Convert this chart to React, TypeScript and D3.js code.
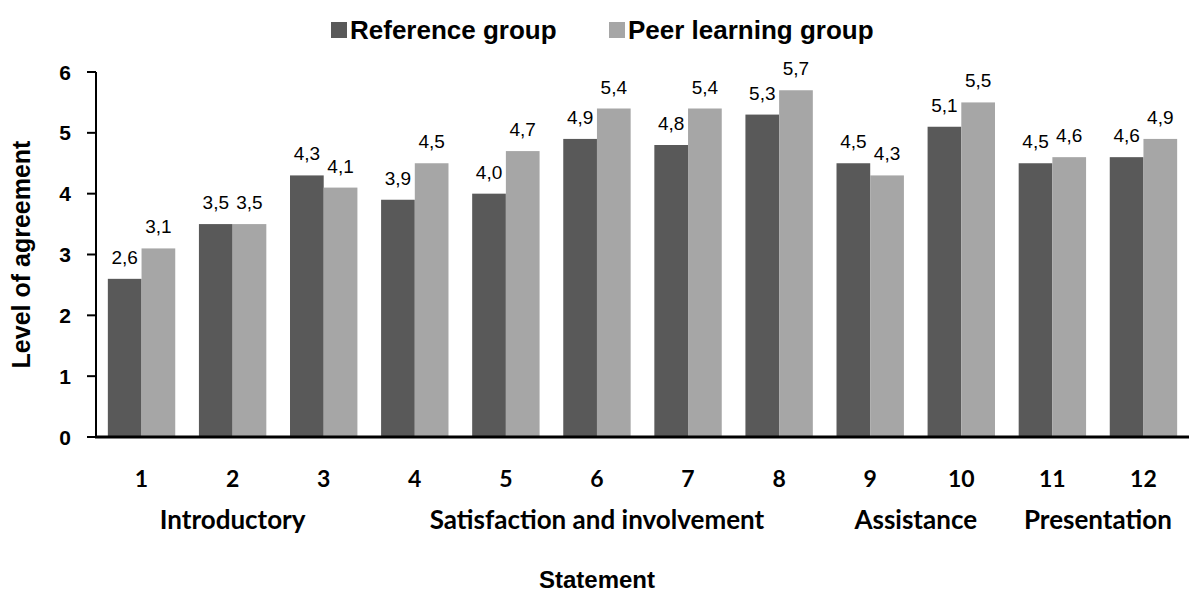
import React from 'react';
import * as d3 from 'd3';

const statements = ['1', '2', '3', '4', '5', '6', '7', '8', '9', '10', '11', '12'];
const referenceGroup = [2.6, 3.5, 4.3, 3.9, 4.0, 4.9, 4.8, 5.3, 4.5, 5.1, 4.5, 4.6];
const peerGroup = [3.1, 3.5, 4.1, 4.5, 4.7, 5.4, 5.4, 5.7, 4.3, 5.5, 4.6, 4.9];
const seriesNames = ['Reference group', 'Peer learning group'];
const seriesColors = ['#595959', '#a6a6a6'];
const yTicks = [0, 1, 2, 3, 4, 5, 6];
const groupNames = ['Introductory', 'Satisfaction and involvement', 'Assistance', 'Presentation'];
const groupFirst = ['1', '4', '9', '11'];
const groupLast = ['3', '8', '10', '12'];

const W = 1196;
const H = 594;
const arial = 'Liberation Sans, Arial, sans-serif';
const calibri = 'Lato, Carlito, sans-serif';

export default function App() {
  const margin = { top: 72, right: 7, bottom: 157, left: 96 };
  const plotW = W - margin.left - margin.right;
  const plotH = H - margin.top - margin.bottom;

  const x = d3.scaleBand().domain(statements).range([0, plotW]).paddingInner(0.26).paddingOuter(0.13);
  const xs = d3.scaleBand().domain(seriesNames).range([0, x.bandwidth()]);
  const y = d3.scaleLinear().domain([0, 6]).range([plotH, 0]);

  const series = [referenceGroup, peerGroup];
  const center = (s: string) => (x(s) ?? 0) + x.bandwidth() / 2;
  const fmt = (v: number) => v.toFixed(1).replace('.', ',');

  return (
    <svg width={W} height={H} style={{ position: 'absolute', left: 0, top: 0, background: '#fff' }}>
      {/* legenda */}
      <g fontFamily={arial} fontWeight="bold" fontSize={26}>
        <rect x={331} y={22} width={16} height={16} fill={seriesColors[0]} />
        <text x={350} y={39}>{seriesNames[0]}</text>
        <rect x={609} y={22} width={16} height={16} fill={seriesColors[1]} />
        <text x={628} y={39}>{seriesNames[1]}</text>
      </g>

      <text
        transform={`translate(30,${margin.top + plotH / 2}) rotate(-90)`}
        textAnchor="middle"
        fontFamily={arial}
        fontWeight="bold"
        fontSize={25}
      >
        Level of agreement
      </text>

      <g transform={`translate(${margin.left},${margin.top})`}>
        {series.map((vals, si) =>
          statements.map((s, i) => {
            const bx = (x(s) ?? 0) + (xs(seriesNames[si]) ?? 0);
            return (
              <g key={`${si}-${s}`}>
                <rect x={bx} y={y(vals[i])} width={xs.bandwidth()} height={plotH - y(vals[i])} fill={seriesColors[si]} />
                <text
                  x={bx + xs.bandwidth() / 2}
                  y={y(vals[i]) - 15}
                  textAnchor="middle"
                  fontFamily={arial}
                  fontSize={19}
                  fill="#000"
                >
                  {fmt(vals[i])}
                </text>
              </g>
            );
          })
        )}

        {/* asse Y */}
        <line x1={0} x2={0} y1={0} y2={plotH} stroke="#000" strokeWidth={2} />
        {yTicks.map(t => (
          <g key={t} transform={`translate(0,${y(t)})`}>
            <line x1={-9} x2={0} stroke="#000" strokeWidth={2} />
            <text x={-25} dy="0.36em" textAnchor="end" fontFamily={arial} fontWeight="bold" fontSize={21}>
              {t}
            </text>
          </g>
        ))}

        {/* asse X */}
        <line x1={-1} x2={plotW} y1={plotH} y2={plotH} stroke="#000" strokeWidth={3} />
        {statements.map(s => (
          <text key={s} x={center(s)} y={plotH + 50} textAnchor="middle" fontFamily={calibri} fontWeight="bold" fontSize={23}>
            {s}
          </text>
        ))}
        {groupNames.map((g, i) => (
          <text
            key={g}
            x={(center(groupFirst[i]) + center(groupLast[i])) / 2}
            y={plotH + 92}
            textAnchor="middle"
            fontFamily={calibri}
            fontWeight="bold"
            fontSize={26}
          >
            {g}
          </text>
        ))}
        <text
          x={center('6')}
          y={plotH + 151}
          textAnchor="middle"
          fontFamily={arial}
          fontWeight="bold"
          fontSize={24}
        >
          Statement
        </text>
      </g>
    </svg>
  );
}
